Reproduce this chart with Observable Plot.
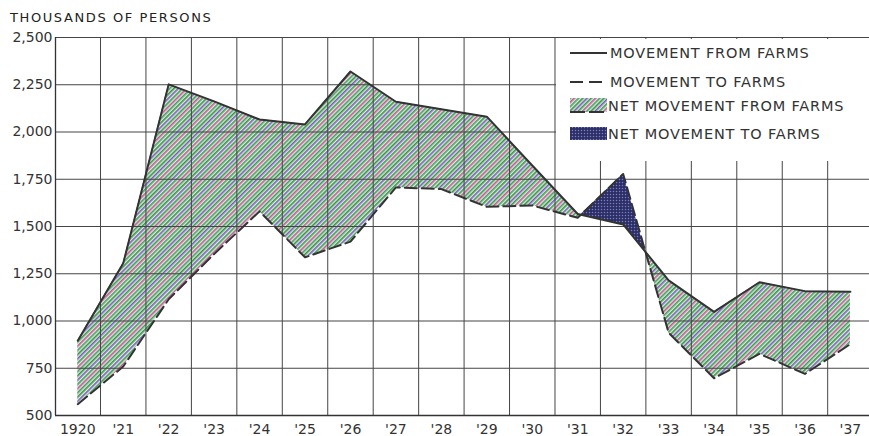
<!DOCTYPE html>
<html><head><meta charset="utf-8">
<script src="https://cdn.jsdelivr.net/npm/d3@7"></script>
<script src="https://cdn.jsdelivr.net/npm/@observablehq/plot@0.6"></script>
<style>
body{margin:0;background:#fff;font-family:"DejaVu Sans",sans-serif;}
#wrap{position:relative;width:869px;height:436px;overflow:hidden;background:#fff;}
#title{position:absolute;left:10px;top:11px;font-size:13px;line-height:13px;letter-spacing:1.6px;color:#222;white-space:nowrap;}
#chart{position:absolute;left:0;top:28px;}
#legend{position:absolute;left:556px;top:39px;width:313px;height:122px;background:#fff;}
.lt{position:absolute;font-size:14.5px;line-height:14.5px;letter-spacing:0.8px;color:#333;white-space:nowrap;}
</style></head><body>
<div id="wrap">
<div id="title">THOUSANDS OF PERSONS</div>
<div id="chart"></div>
<div id="legend"></div>
</div>
<script>
const years = [1920,1921,1922,1923,1924,1925,1926,1927,1928,1929,1930,1931,1932,1933,1934,1935,1936,1937];
const yearLabels = ["1920","'21","'22","'23","'24","'25","'26","'27","'28","'29","'30","'31","'32","'33","'34","'35","'36","'37"];
const fromFarms = [896,1305,2252,2162,2066,2040,2320,2160,2120,2081,1823,1566,1511,1215,1048,1205,1158,1155];
const toFarms   = [560,759,1115,1355,1580,1337,1420,1707,1698,1604,1611,1546,1778,938,697,826,720,878];
const yTicks = [500,750,1000,1250,1500,1750,2000,2250,2500];
const legendLabels = ["MOVEMENT FROM FARMS","MOVEMENT TO FARMS","NET MOVEMENT FROM FARMS","NET MOVEMENT TO FARMS"];

const data = years.map((year,i)=>({year, from: fromFarms[i], to: toFarms[i]}));
const gridYears = years.slice(0,-1).map(y=>y+0.5);
const xDomain = [years[0]-0.49, years[years.length-1]+0.42];
const yDomain = [yTicks[0], yTicks[yTicks.length-1]];
const ink = "#333";
const grid = "#454545";
const HELPER = "#010203";

const plot = Plot.plot({
  width: 869, height: 408,
  marginLeft: 55, marginRight: 0, marginTop: 9, marginBottom: 21,
  style: {fontFamily:"DejaVu Sans", fontSize:"14px", color: ink, background:"#fff", overflow:"visible"},
  x: {domain: xDomain, axis: null},
  y: {domain: yDomain, axis: null},
  marks: [
    Plot.areaY(data, {x:"year", y1:"to", y2:"from", fill:"url(#hatch)"}),
    Plot.ruleY(yTicks.slice(1), {stroke:grid, strokeWidth:1}),
    Plot.ruleX(gridYears, {y1: yDomain[0], y2: yDomain[1], stroke:grid, strokeWidth:1}),
    Plot.areaY(data, {x:"year", y1:"from", y2: yDomain[1], fill: HELPER}),
    Plot.areaY(data, {x:"year", y1:"to", y2:"from", fill:"url(#dots)"}),
    Plot.ruleY([yDomain[0]], {stroke: ink, strokeWidth: 1.3}),
    Plot.ruleX([xDomain[0]], {y1: yDomain[0], y2: yDomain[1], stroke: ink, strokeWidth: 1.3}),
    Plot.lineY(data, {x:"year", y:"from", stroke: ink, strokeWidth: 2}),
    Plot.lineY(data, {x:"year", y:"to", stroke: ink, strokeWidth: 2, strokeDasharray:"12,5"}),
    Plot.axisX(years, {tickSize:0, tickPadding:9, label: null, tickFormat: d => yearLabels[years.indexOf(d)], fontSize: 14}),
    Plot.axisY(yTicks, {tickSize:0, tickPadding:3, label: null, tickFormat: d3.format(","), fontSize: 14})
  ]
});
document.getElementById("chart").appendChild(plot);

const NS = "http://www.w3.org/2000/svg";
const svg = d3.select(plot);
const defs = svg.insert("defs", ":first-child");
// hatch pattern
const hp = defs.append("pattern").attr("id","hatch").attr("patternUnits","userSpaceOnUse")
  .attr("width",15).attr("height",15).attr("patternTransform","rotate(45)");
hp.append("rect").attr("width",15).attr("height",15).attr("fill","#dce9d6");
const stripeCols = ["#3a8f4e","#7560be","#3f9a58","#bd5a9a","#4a9c6a"];
stripeCols.forEach((c,i)=>hp.append("rect").attr("x",i*3).attr("y",0).attr("width",1.6).attr("height",15).attr("fill",c));
// dots pattern
const dp = defs.append("pattern").attr("id","dots").attr("patternUnits","userSpaceOnUse")
  .attr("width",3).attr("height",3);
dp.append("rect").attr("width",3).attr("height",3).attr("fill","#2c2f66");
dp.append("circle").attr("cx",1.5).attr("cy",1.5).attr("r",0.75).attr("fill","#7c7fbf");

// find marks by their constant fill
const findG = (fill) => Array.from(plot.querySelectorAll("g, path")).find(el => (el.getAttribute("fill")||"").toLowerCase() === fill);
const helper = findG(HELPER);
const cp = defs.append("clipPath").attr("id","aboveFrom");
if (helper) {
  const paths = helper.tagName.toLowerCase() === "path" ? [helper] : Array.from(helper.querySelectorAll("path"));
  paths.forEach(pth => {
    const p = cp.append("path").attr("d", pth.getAttribute("d"));
    const t = helper.getAttribute("transform");
    if (t) p.attr("transform", t);
  });
  helper.remove();
}
const target = findG("url(#dots)");
if (target) {
  const wrapper = document.createElementNS(NS,"g");
  target.parentNode.insertBefore(wrapper, target);
  wrapper.appendChild(target);
  wrapper.setAttribute("clip-path","url(#aboveFrom)");
}

// legend
const leg = d3.select("#legend");
const ls = leg.append("svg").attr("width",313).attr("height",122).style("position","absolute").style("left","0").style("top","0");
ls.append("line").attr("x1",14).attr("x2",51).attr("y1",14).attr("y2",14).attr("stroke",ink).attr("stroke-width",1.8);
ls.append("line").attr("x1",14).attr("x2",51).attr("y1",43).attr("y2",43).attr("stroke",ink).attr("stroke-width",1.8).attr("stroke-dasharray","13,6");
ls.append("rect").attr("x",14).attr("y",59).attr("width",37).attr("height",14).attr("fill","url(#hatch)");
ls.append("line").attr("x1",14).attr("x2",51).attr("y1",73).attr("y2",73).attr("stroke",ink).attr("stroke-width",1.8).attr("stroke-dasharray","15,4");
ls.append("rect").attr("x",14).attr("y",88).attr("width",37).attr("height",13).attr("fill","url(#dots)");
const pos = [[54,7],[54,36],[52,60],[52,88]];
legendLabels.forEach((t,i)=>leg.append("div").attr("class","lt").style("left",pos[i][0]+"px").style("top",pos[i][1]+"px").text(t));
</script>
</body></html>
